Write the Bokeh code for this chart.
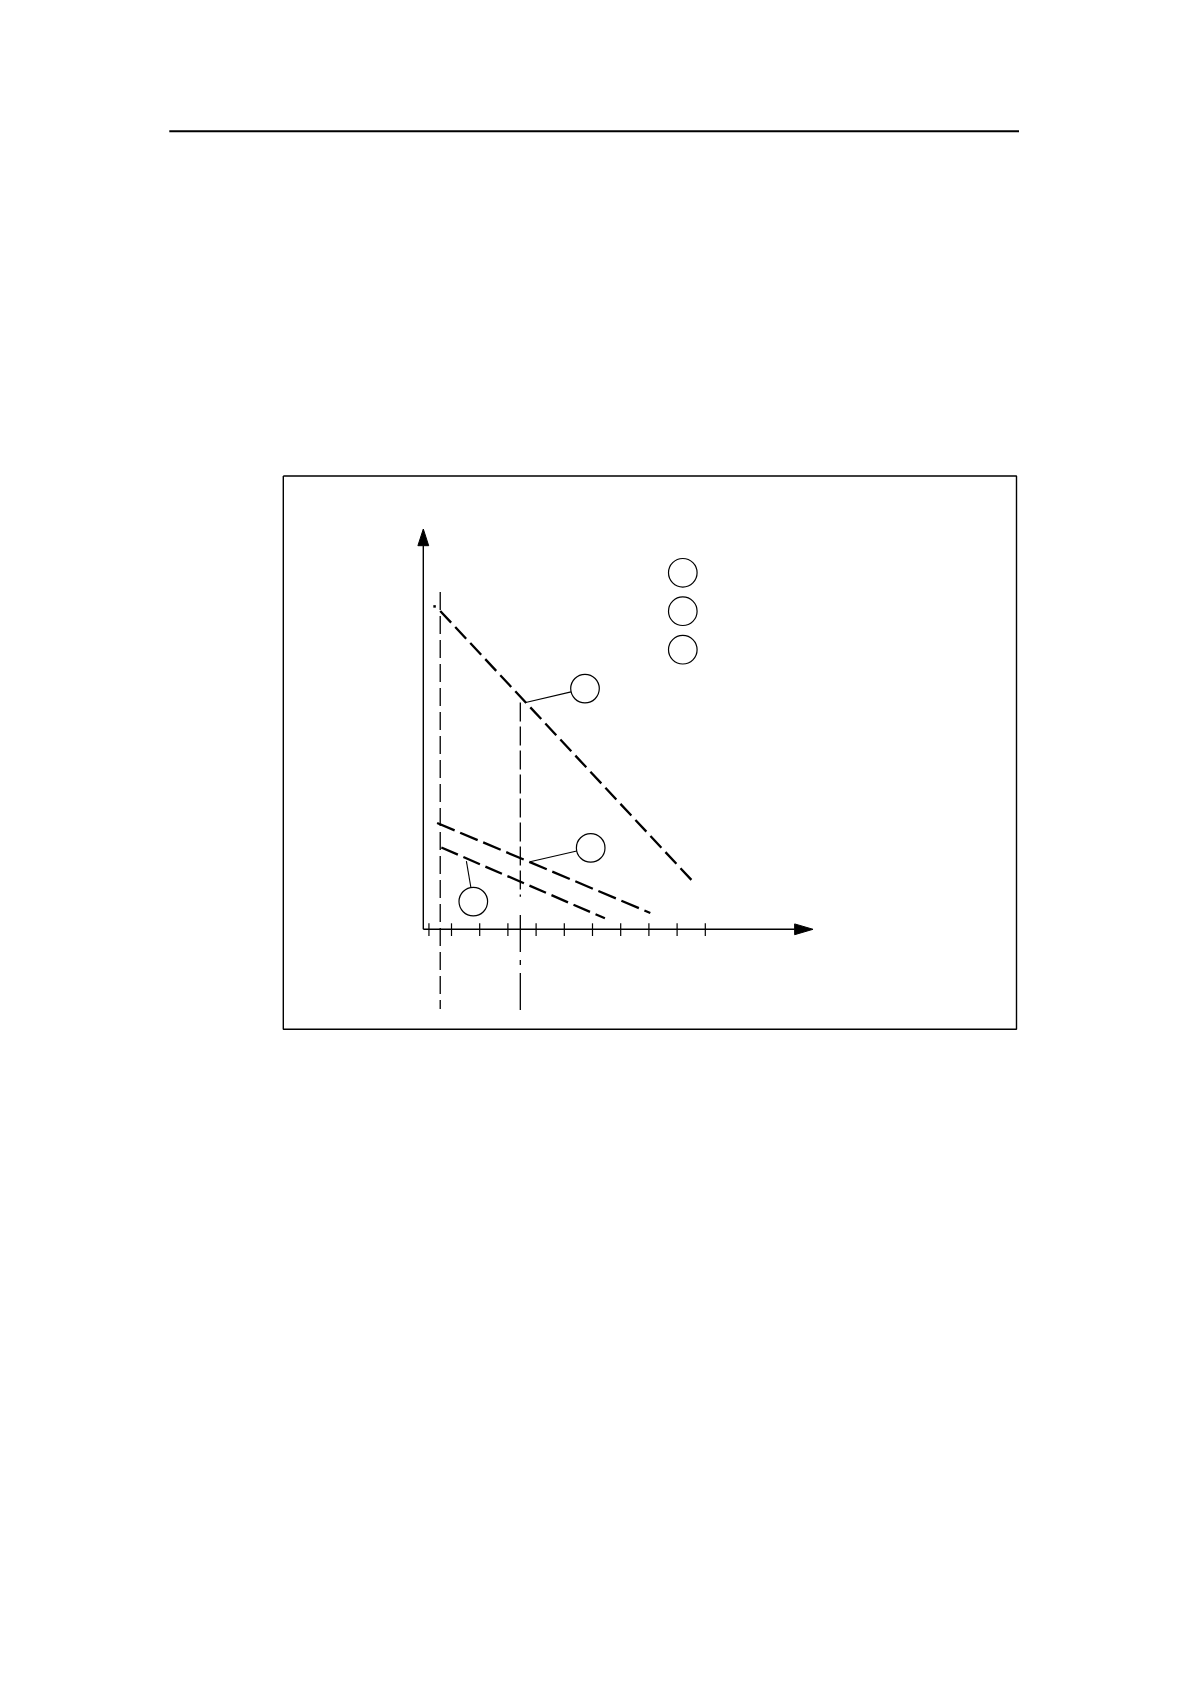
import numpy as np
from bokeh.plotting import figure
from bokeh.embed import file_html
from bokeh.resources import INLINE

# ---------------- data (chart units: one unit = one x-tick step) ----------------
x_ticks = [0.2, 1, 2, 3, 4, 5, 6, 7, 8, 9, 10]

# three dashed characteristic lines (start, end)
line1_x = [0.60, 9.65]
line1_y = [11.29, 1.60]
line2_x = [0.49, 8.05]
line2_y = [3.77, 0.58]
line3_x = [0.64, 6.44]
line3_y = [2.90, 0.39]
line1_dot = (0.40, 11.45)

# vertical reference lines
ref_dash_x = 0.60
ref_dash_y = [11.96, -2.83]
ref_mid_x = 3.44
ref_mid_upper_y = [8.04, 1.15]     # dashed part
ref_mid_lower_y = [0.51, -2.90]    # dash-dot part

# numbered label circles and their leader start points
label_cx = [5.734, 5.936, 1.773]
label_cy = [8.535, 2.887, 0.982]
leader_sx = [3.631, 3.784, 1.528]
leader_sy = [8.043, 2.394, 2.418]

# legend circles
legend_cx = [9.202, 9.202, 9.202]
legend_cy = [12.642, 11.280, 9.915]

circle_r = 0.507
x_axis_end = 13.82
y_axis_end = 14.195

# ---------------- page geometry ----------------
W, H = 1174, 1668
PX = 28.2                 # pixels per chart unit
ORIGIN = (423.3, 929.3)   # page pixel of chart origin
OFFSET = 0.5              # observed placement of the canvas on the page

x0 = -(ORIGIN[0] - OFFSET) / PX
x1 = x0 + W / PX
y1 = (ORIGIN[1] - OFFSET) / PX
y0 = y1 - H / PX

def ux(px):
    return (px - ORIGIN[0]) / PX

def uy(py):
    return (ORIGIN[1] - py) / PX

p = figure(width=W, height=H, x_range=(x0, x1), y_range=(y0, y1),
           output_backend="svg", toolbar_location=None, min_border=0,
           background_fill_color="white", border_fill_color="white")
p.axis.visible = False
p.grid.visible = False
p.outline_line_color = None

# header rule
p.line([ux(169.3), ux(1019)], [uy(131.3), uy(131.3)], line_color="black", line_width=2)

# figure box
bl, br, bt, bb = ux(283.3), ux(1016.5), uy(476), uy(1029.3)
p.line([bl, br, br, bl, bl], [bt, bt, bb, bb, bt], line_color="black", line_width=1.4)

# axes
ah_len = 16.7 / PX
ah_half = 5.4 / PX
p.line([0, 0], [0, y_axis_end - ah_len], line_color="black", line_width=1.4)
p.patch([-ah_half, ah_half, 0], [y_axis_end - ah_len, y_axis_end - ah_len, y_axis_end],
        fill_color="black", line_color="black", line_width=1)
p.line([0, x_axis_end - ah_len * 1.1], [0, 0], line_color="black", line_width=1.4)
p.patch([x_axis_end - ah_len * 1.1, x_axis_end - ah_len * 1.1, x_axis_end],
        [-ah_half, ah_half, 0], fill_color="black", line_color="black", line_width=1)

# ticks
tick_up, tick_dn = 6.0 / PX, 6.7 / PX
p.segment(x0=x_ticks, y0=[-tick_dn] * len(x_ticks), x1=x_ticks, y1=[tick_up] * len(x_ticks),
          line_color="black", line_width=1.2)

# vertical reference lines
p.line([ref_dash_x, ref_dash_x], ref_dash_y, line_color="black", line_width=1.3,
       line_dash="18 6")
p.line([ref_mid_x, ref_mid_x], ref_mid_upper_y, line_color="black", line_width=1.3,
       line_dash="19 5")
p.line([ref_mid_x, ref_mid_x], ref_mid_lower_y, line_color="black", line_width=1.3,
       line_dash="37 8 5 8")

# dashed characteristic lines
p.line(line1_x, line1_y, line_color="black", line_width=2.3, line_dash="16 6")
p.line(line2_x, line2_y, line_color="black", line_width=2.3, line_dash="19 6")
p.line(line3_x, line3_y, line_color="black", line_width=2.3, line_dash="18 6")
p.scatter([line1_dot[0]], [line1_dot[1]], marker="square", size=2.5,
          fill_color="black", line_color=None)

# leaders ending at circle boundaries
lcx, lcy = np.array(label_cx), np.array(label_cy)
lsx, lsy = np.array(leader_sx), np.array(leader_sy)
d = np.hypot(lcx - lsx, lcy - lsy)
ex = lcx - (lcx - lsx) / d * circle_r
ey = lcy - (lcy - lsy) / d * circle_r
p.segment(x0=lsx, y0=lsy, x1=ex, y1=ey, line_color="black", line_width=1.1)

# circles
p.circle(x=label_cx, y=label_cy, radius=circle_r, fill_color=None,
         line_color="black", line_width=1.2)
p.circle(x=legend_cx, y=legend_cy, radius=circle_r, fill_color=None,
         line_color="black", line_width=1.2)

open("out.html", "w").write(file_html(p, INLINE))
